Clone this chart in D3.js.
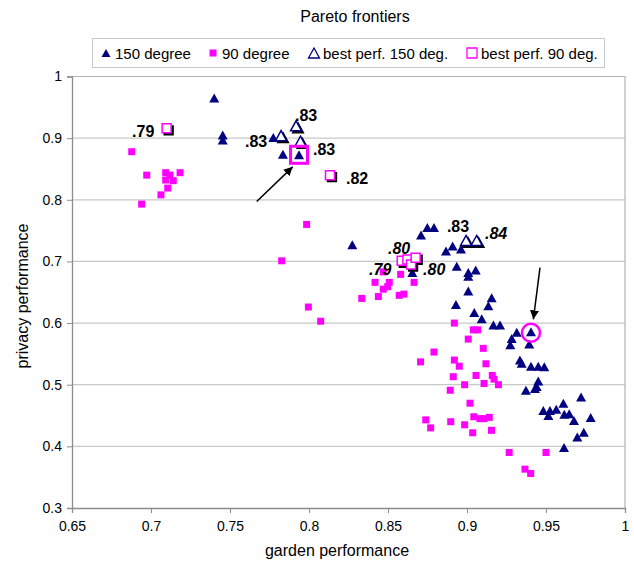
<!DOCTYPE html>
<html>
<head>
<meta charset="utf-8">
<script src="https://cdn.jsdelivr.net/npm/d3@7"></script>
<style>
  body { margin: 0; background: #fff; }
  svg { font-family: "Liberation Sans", Arial, sans-serif; }
</style>
</head>
<body>
<div id="chart"></div>
<script>
// axis ticks
const xTicks = [0.65, 0.7, 0.75, 0.8, 0.85, 0.9, 0.95, 1];
const yTicks = [0.3, 0.4, 0.5, 0.6, 0.7, 0.8, 0.9, 1];

// 150 degree runs [garden, privacy]
const deg150 = [
  [0.740, 0.965], [0.7454, 0.905], [0.7454, 0.897], [0.7774, 0.901], [0.7835, 0.874],
  [0.7937, 0.873], [0.8274, 0.727], [0.8654, 0.682], [0.8709, 0.743], [0.8749, 0.755],
  [0.8791, 0.755], [0.8867, 0.717], [0.8909, 0.725], [0.8962, 0.720], [0.8935, 0.692],
  [0.9008, 0.682], [0.9055, 0.686], [0.9008, 0.676], [0.9008, 0.652], [0.893, 0.630],
  [0.9156, 0.641], [0.9135, 0.628], [0.9046, 0.617], [0.9093, 0.607], [0.9167, 0.597],
  [0.9209, 0.597], [0.9315, 0.585], [0.9283, 0.575], [0.9274, 0.565], [0.9405, 0.586],
  [0.9394, 0.566], [0.9335, 0.540], [0.9346, 0.535], [0.9405, 0.530], [0.9451, 0.530],
  [0.9489, 0.529], [0.9451, 0.506], [0.9441, 0.497], [0.9373, 0.491], [0.943, 0.494],
  [0.9722, 0.480], [0.961, 0.470], [0.9483, 0.458], [0.9525, 0.458], [0.9565, 0.460],
  [0.9515, 0.450], [0.9616, 0.452], [0.9647, 0.453], [0.9677, 0.442], [0.9783, 0.447],
  [0.9739, 0.423], [0.9698, 0.415], [0.9614, 0.398]
];

// 90 degree runs
const deg90 = [
  [0.6878, 0.878], [0.6973, 0.840], [0.7093, 0.844], [0.712, 0.840], [0.7093, 0.832],
  [0.7141, 0.831], [0.7184, 0.844], [0.7106, 0.819], [0.7063, 0.808], [0.6941, 0.793],
  [0.7985, 0.760], [0.7827, 0.701], [0.7996, 0.626], [0.8074, 0.603], [0.847, 0.683],
  [0.8418, 0.666], [0.8508, 0.666], [0.847, 0.655], [0.8498, 0.659], [0.8439, 0.643],
  [0.8334, 0.640], [0.858, 0.679], [0.8665, 0.666], [0.8571, 0.645], [0.8601, 0.647],
  [0.892, 0.600], [0.904, 0.589], [0.9068, 0.589], [0.9008, 0.574], [0.9103, 0.559],
  [0.8791, 0.553], [0.8706, 0.537], [0.892, 0.540], [0.8951, 0.530], [0.912, 0.534],
  [0.8913, 0.513], [0.9057, 0.515], [0.916, 0.515], [0.9171, 0.509], [0.9199, 0.500],
  [0.9108, 0.502], [0.8985, 0.500], [0.8894, 0.491], [0.9019, 0.470], [0.8739, 0.443],
  [0.877, 0.430], [0.8897, 0.440], [0.9043, 0.448], [0.9082, 0.445], [0.9108, 0.445],
  [0.9141, 0.447], [0.8985, 0.435], [0.9036, 0.422], [0.9155, 0.426], [0.9267, 0.390],
  [0.95, 0.390], [0.9367, 0.363], [0.9403, 0.356]
];

// best performers
const best150 = [
  [0.7823, 0.904], [0.7918, 0.920], [0.7946, 0.895], [0.8994, 0.734], [0.9061, 0.734]
];
const best90 = [
  [0.7099, 0.916], [0.8133, 0.840], [0.8587, 0.701], [0.8623, 0.703], [0.8646, 0.695], [0.8675, 0.706]
];

// value labels: text, where the text starts (garden, privacy), italic or not
const labelText = [".79", ".83", ".83", ".83", ".82", ".80", ".79", ".80", ".83", ".84"];
const labelAt = [
  [0.6880, 0.9024], [0.7595, 0.8862], [0.7911, 0.9284], [0.8025, 0.8732], [0.8234, 0.8253],
  [0.850, 0.7117], [0.838, 0.6776], [0.8722, 0.6776], [0.8873, 0.7482], [0.9114, 0.736]
];
const labelItalic = [false, false, false, false, false, true, true, true, false, true];

// highlighted runs and arrows pointing at them
const highlightSquare = [0.7937, 0.873];
const highlightCircle = [0.9405, 0.586];
const arrows = [
  [[0.7669, 0.7972], [0.7897, 0.8534]],
  [[0.9462, 0.690], [0.9420, 0.606]]
];

const legendNames = ["150 degree", "90 degree", "best perf. 150 deg.", "best perf. 90 deg."];

const width = 634, height = 569;
const margin = { top: 76.5, right: 9, bottom: 61, left: 72 };
const navy = "#000080", magenta = "#ff00ff";

const svg = d3.select("#chart").append("svg")
  .attr("width", width)
  .attr("height", height);

const x = d3.scaleLinear().domain([0.65, 1]).range([margin.left, width - margin.right]);
const y = d3.scaleLinear().domain([0.3, 1]).range([height - margin.bottom, margin.top]);

// triangle / square paths centred on 0,0
const tri = (w, h) => `M0,${-h / 2}L${w / 2},${h / 2}L${-w / 2},${h / 2}Z`;
const sq = s => `M${-s / 2},${-s / 2}h${s}v${s}h${-s}Z`;

// title
svg.append("text")
  .attr("x", 355).attr("y", 22)
  .attr("text-anchor", "middle")
  .attr("font-size", "16px")
  .text("Pareto frontiers");

// legend
const lg = svg.append("g");
lg.append("rect")
  .attr("x", 92.5).attr("y", 38.5).attr("width", 512).attr("height", 29)
  .attr("fill", "#fff").attr("stroke", "#c8c8c8");
const legendX = [106, 213, 314, 472];
const legendSym = [
  { d: tri(9, 8), fill: navy, stroke: "none" },
  { d: sq(7), fill: magenta, stroke: "none" },
  { d: tri(11, 10), fill: "#fff", stroke: navy },
  { d: sq(10), fill: "#fff", stroke: magenta }
];
legendNames.forEach((name, i) => {
  lg.append("path")
    .attr("transform", `translate(${legendX[i]},53)`)
    .attr("d", legendSym[i].d)
    .attr("fill", legendSym[i].fill)
    .attr("stroke", legendSym[i].stroke)
    .attr("stroke-width", 1.3);
  lg.append("text")
    .attr("x", legendX[i] + 9).attr("y", 58.5)
    .attr("font-size", "15px")
    .text(name);
});

// gridlines
svg.append("g").selectAll("line")
  .data(yTicks.filter(d => d > 0.3 && d < 1))
  .join("line")
  .attr("x1", x(0.65)).attr("x2", x(1))
  .attr("y1", d => y(d)).attr("y2", d => y(d))
  .attr("stroke", "#c8c8c8").attr("stroke-width", 1.2);

// plot frame (top / right)
svg.append("path")
  .attr("d", `M${x(0.65)},${y(1)}H${x(1)}V${y(0.3)}`)
  .attr("fill", "none").attr("stroke", "#b4b4b4").attr("stroke-width", 1.2);

// axes
const fmt = d => d === 1 ? "1" : d3.format("")(+d.toFixed(2));
const xAxis = svg.append("g")
  .attr("transform", `translate(0,${y(0.3)})`)
  .call(d3.axisBottom(x).tickValues(xTicks).tickSize(5).tickPadding(8).tickFormat(fmt));
const yAxis = svg.append("g")
  .attr("transform", `translate(${x(0.65)},0)`)
  .call(d3.axisLeft(y).tickValues(yTicks).tickSize(5).tickPadding(5).tickFormat(fmt));
[xAxis, yAxis].forEach(a => {
  a.select(".domain").attr("stroke", "#8c8c8c").attr("stroke-width", 1.3);
  a.selectAll(".tick line").attr("stroke", "#8c8c8c");
  a.selectAll("text").attr("font-size", "14px").attr("fill", "#000")
    .attr("font-family", "'Liberation Sans', Arial, sans-serif");
});

svg.append("text")
  .attr("x", 337).attr("y", 556)
  .attr("text-anchor", "middle").attr("font-size", "16px")
  .text("garden performance");
svg.append("text")
  .attr("transform", "translate(28,296) rotate(-90)")
  .attr("text-anchor", "middle").attr("font-size", "16px")
  .text("privacy performance");

// 150 degree
svg.append("g").selectAll("path")
  .data(deg150)
  .join("path")
  .attr("transform", d => `translate(${x(d[0])},${y(d[1])})`)
  .attr("d", tri(10, 9))
  .attr("fill", navy);

// 90 degree
svg.append("g").selectAll("path")
  .data(deg90)
  .join("path")
  .attr("transform", d => `translate(${x(d[0])},${y(d[1])})`)
  .attr("d", sq(7))
  .attr("fill", magenta);

// best perf. 150 deg. (with shadow)
const b150 = svg.append("g");
b150.selectAll("path.shadow")
  .data(best150)
  .join("path")
  .attr("class", "shadow")
  .attr("transform", d => `translate(${x(d[0]) + 2},${y(d[1]) + 2})`)
  .attr("d", tri(11, 10))
  .attr("fill", "#000").attr("stroke", "#000").attr("stroke-width", 1.3);
b150.selectAll("path.mark")
  .data(best150)
  .join("path")
  .attr("class", "mark")
  .attr("transform", d => `translate(${x(d[0])},${y(d[1])})`)
  .attr("d", tri(11, 10))
  .attr("fill", "#fff").attr("stroke", navy).attr("stroke-width", 1.5);

// best perf. 90 deg. (with shadow)
const b90 = svg.append("g");
b90.selectAll("path.shadow")
  .data(best90)
  .join("path")
  .attr("class", "shadow")
  .attr("transform", d => `translate(${x(d[0]) + 2},${y(d[1]) + 2})`)
  .attr("d", sq(9))
  .attr("fill", "#000").attr("stroke", "#000").attr("stroke-width", 1.3);
b90.selectAll("path.mark")
  .data(best90)
  .join("path")
  .attr("class", "mark")
  .attr("transform", d => `translate(${x(d[0])},${y(d[1])})`)
  .attr("d", sq(9))
  .attr("fill", "#fff").attr("stroke", magenta).attr("stroke-width", 1.5);

// highlights
svg.append("rect")
  .attr("x", x(highlightSquare[0]) - 8.5).attr("y", y(highlightSquare[1]) - 8.5)
  .attr("width", 17).attr("height", 17)
  .attr("fill", "none").attr("stroke", magenta).attr("stroke-width", 3);
svg.append("circle")
  .attr("cx", x(highlightCircle[0])).attr("cy", y(highlightCircle[1]) + 1)
  .attr("r", 9)
  .attr("fill", "none").attr("stroke", magenta).attr("stroke-width", 2.5);

// arrows
svg.append("defs").append("marker")
  .attr("id", "head")
  .attr("viewBox", "0 0 10 10")
  .attr("refX", 10).attr("refY", 5)
  .attr("markerWidth", 9).attr("markerHeight", 9)
  .attr("markerUnits", "userSpaceOnUse")
  .attr("orient", "auto")
  .append("path").attr("d", "M0,0L10,5L0,10Z").attr("fill", "#000");
svg.append("g").selectAll("line")
  .data(arrows)
  .join("line")
  .attr("x1", d => x(d[0][0])).attr("y1", d => y(d[0][1]))
  .attr("x2", d => x(d[1][0])).attr("y2", d => y(d[1][1]))
  .attr("stroke", "#000").attr("stroke-width", 1.5)
  .attr("marker-end", "url(#head)");

// value labels
svg.append("g").selectAll("text")
  .data(labelText)
  .join("text")
  .attr("x", (d, i) => x(labelAt[i][0]))
  .attr("y", (d, i) => y(labelAt[i][1]))
  .attr("font-size", "16px")
  .attr("font-weight", "bold")
  .attr("font-style", (d, i) => labelItalic[i] ? "italic" : "normal")
  .text(d => d);
</script>
</body>
</html>
